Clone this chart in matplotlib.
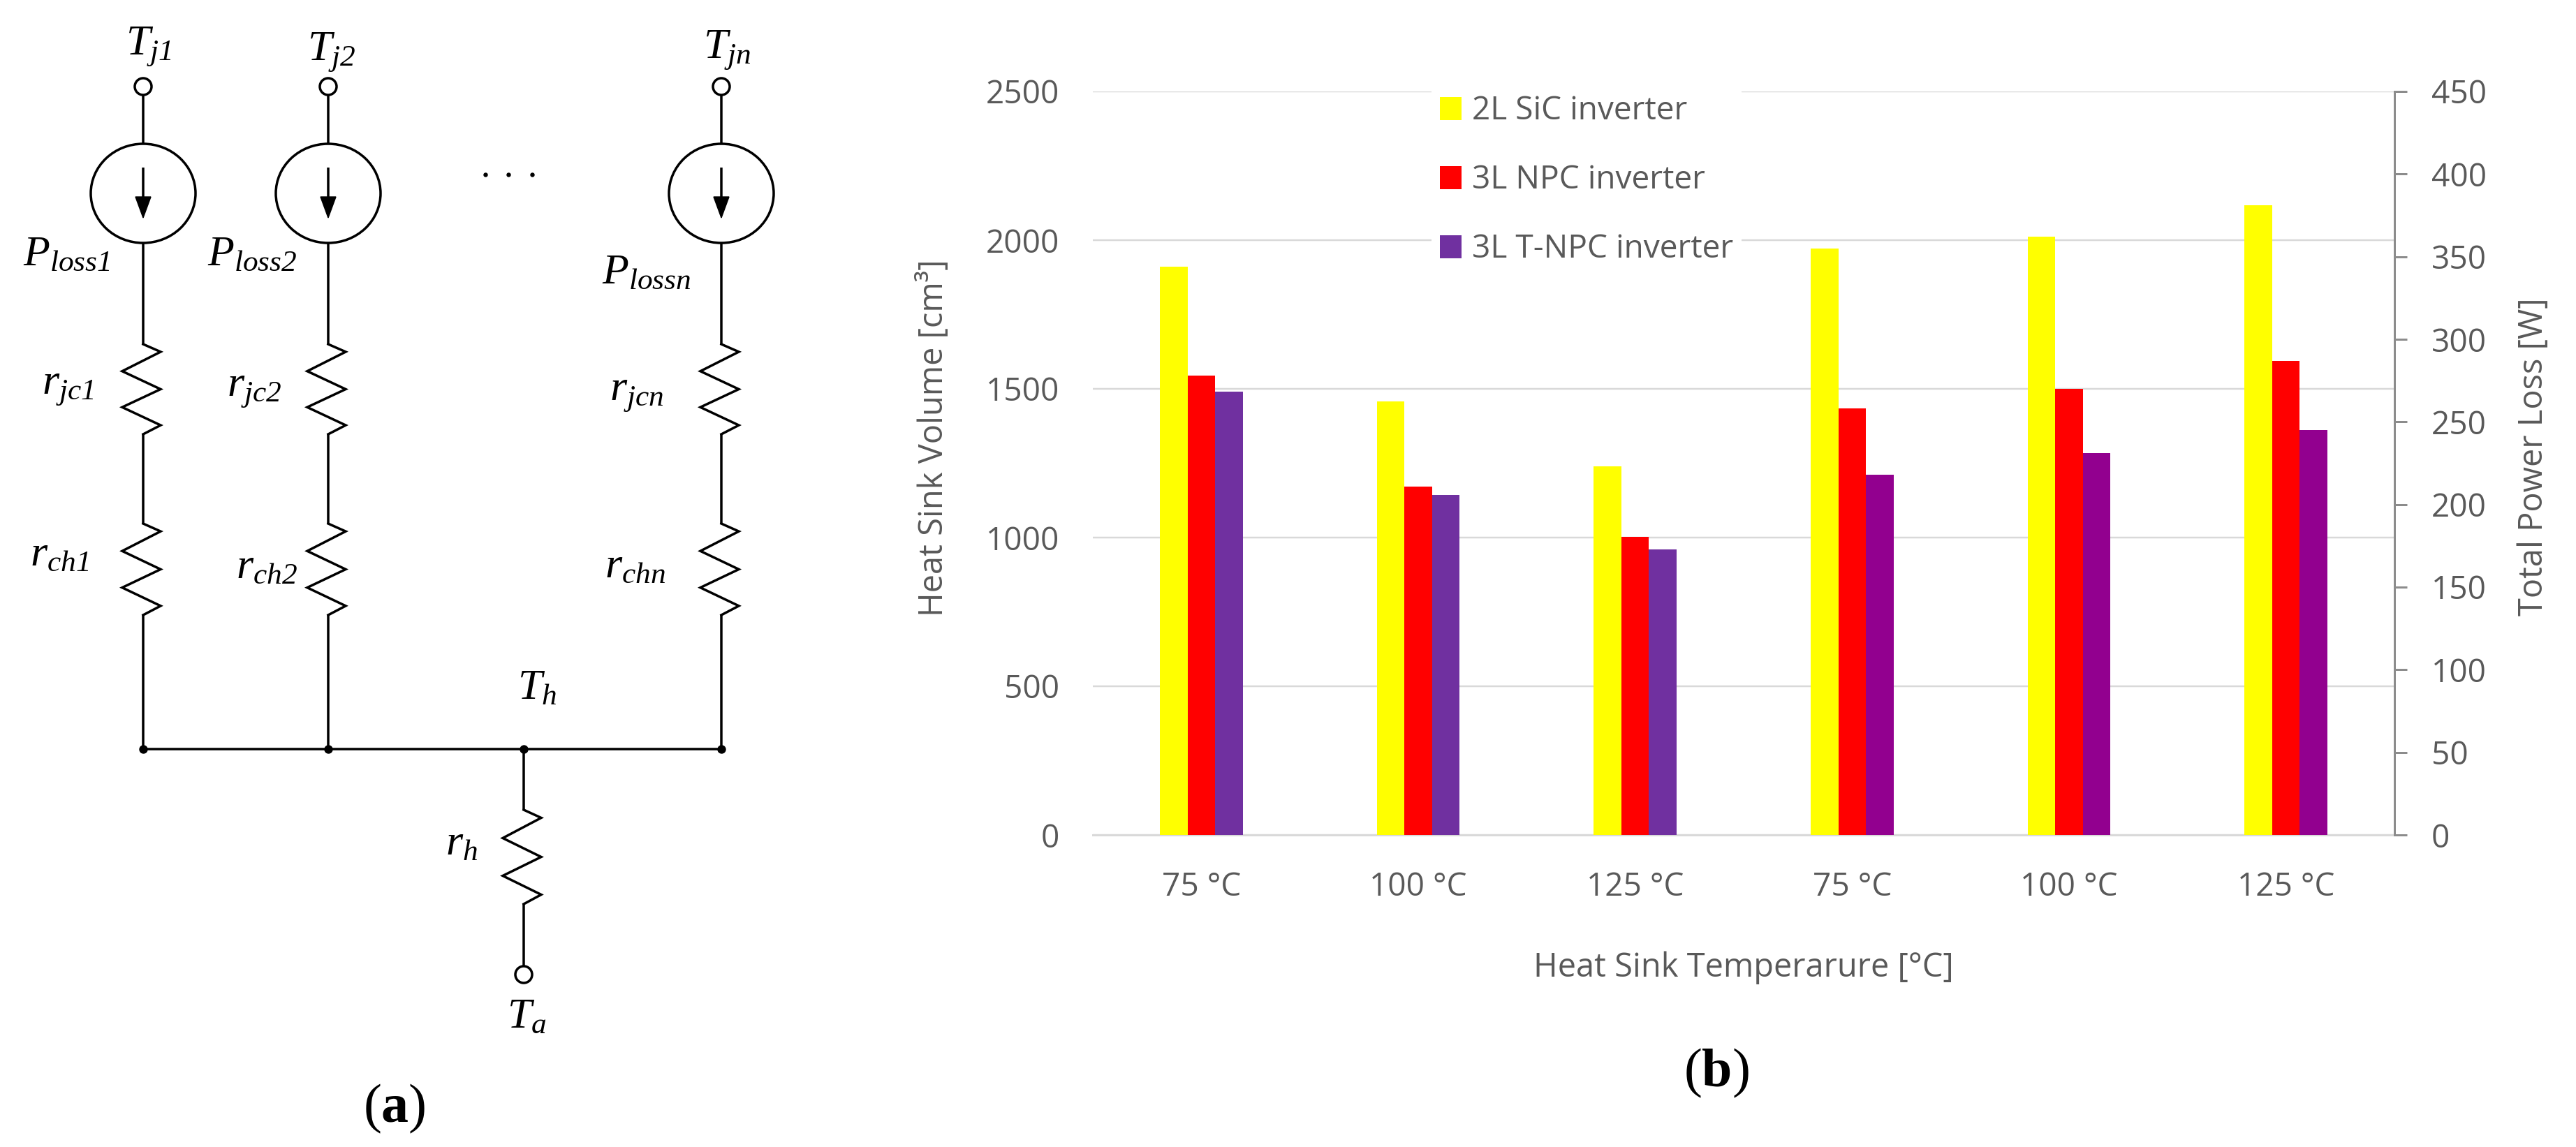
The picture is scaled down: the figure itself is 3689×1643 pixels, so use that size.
import numpy as np
import matplotlib
matplotlib.use("Agg")
import matplotlib.pyplot as plt
from matplotlib.patches import Ellipse, Circle, Polygon, Patch

# ---- chart data (panel b) ----
categories = ["75 °C", "100 °C", "125 °C", "75 °C", "100 °C", "125 °C"]
series_names = ["2L SiC inverter", "3L NPC inverter", "3L T-NPC inverter"]

# first three groups: heat sink volume [cm3] (left axis)
volume_2l = [1910, 1458, 1239]
volume_npc = [1545, 1172, 1002]
volume_tnpc = [1490, 1143, 961]

# last three groups: total power loss [W] (right axis)
loss_2l = [355, 362, 381]
loss_npc = [258, 270, 287]
loss_tnpc = [218, 231, 245]

vol_colors = ["#FFFF00", "#FF0000", "#7030A0"]
loss_colors = ["#FFFF00", "#FF0000", "#92008F"]

W, H = 3689, 1643
DPI = 100
PT = 72.0 / DPI  # points per pixel
TXT = "#595959"

plt.rcParams["font.family"] = ["Open Sans", "DejaVu Sans"]
plt.rcParams["mathtext.fontset"] = "custom"
plt.rcParams["mathtext.rm"] = "Liberation Serif:italic"
plt.rcParams["mathtext.it"] = "Liberation Serif:italic"
plt.rcParams["mathtext.bf"] = "Liberation Serif:bold"

fig = plt.figure(figsize=(W / DPI, H / DPI), dpi=DPI)

# ---- panel a: thermal network, drawn in pixel coords ----
ax0 = fig.add_axes([0, 0, 1, 1])
ax0.set_xlim(0, W)
ax0.set_ylim(H, 0)
ax0.axis("off")

LW = 3.5 * PT
branch_x = [205, 470, 1033]
node_x = 750
bus_y = 1073


def wire(x0, y0, x1, y1):
    ax0.plot([x0, x1], [y0, y1], color="k", lw=LW, solid_capstyle="butt")


def resistor(x, y0, y1):
    fr = np.array([0, 0.085, 0.3, 0.5, 0.7, 0.9, 1.0])
    dx = np.array([0, 25, -30, 25, -30, 25, 0])
    ax0.plot(x + dx, y0 + fr * (y1 - y0), color="k", lw=LW, solid_joinstyle="miter")


def terminal(x, y):
    ax0.add_patch(Circle((x, y), 12, facecolor="white", edgecolor="k", lw=LW, zorder=5))


for bx in branch_x:
    terminal(bx, 124)
    wire(bx, 136, bx, 206)
    ax0.add_patch(Ellipse((bx, 277), 150, 142, facecolor="none", edgecolor="k", lw=LW))
    wire(bx, 240, bx, 290)
    ax0.add_patch(Polygon([[bx - 11, 282], [bx + 11, 282], [bx, 312]], closed=True,
                          facecolor="k", edgecolor="k", lw=1))
    wire(bx, 348, bx, 493)
    resistor(bx, 493, 622)
    wire(bx, 622, bx, 750)
    resistor(bx, 750, 881)
    wire(bx, 881, bx, bus_y)

wire(branch_x[0], bus_y, branch_x[-1], bus_y)
ax0.plot(branch_x + [node_x], [bus_y] * 4, "o", color="k", ms=11 * PT, zorder=6)
wire(node_x, bus_y, node_x, 1160)
resistor(node_x, 1160, 1295)
wire(node_x, 1295, node_x, 1384)
terminal(node_x, 1396)
ax0.plot([695, 728, 762], [250, 250, 250], "o", color="k", ms=5 * PT)

lab_fs = 62 * PT
labels = [
    (180, 79, r"$T_{j1}$"), (440, 87, r"$T_{j2}$"), (1007, 84, r"$T_{jn}$"),
    (33, 380, r"$P_{loss1}$"), (297, 380, r"$P_{loss2}$"), (862, 406, r"$P_{lossn}$"),
    (60, 565, r"$r_{jc1}$"), (325, 568, r"$r_{jc2}$"), (873, 574, r"$r_{jcn}$"),
    (43, 810, r"$r_{ch1}$"), (338, 828, r"$r_{ch2}$"), (866, 827, r"$r_{chn}$"),
    (741, 1002, r"$T_{h}$"), (638, 1225, r"$r_{h}$"), (726, 1472, r"$T_{a}$"),
]
for lx, ly, s in labels:
    ax0.text(lx, ly, s, fontsize=lab_fs, ha="left", va="baseline", color="k")

ax0.text(565, 1588, r"($\mathbf{a}$)", family="Liberation Serif", fontsize=78 * PT,
         ha="center", va="center", color="k")
ax0.text(2458, 1537, r"($\mathbf{b}$)", family="Liberation Serif", fontsize=78 * PT,
         ha="center", va="center", color="k")

# ---- panel b: bar chart ----
x0p, x1p, ytop, ybot = 1565, 3429, 131, 1196
ax = fig.add_axes([x0p / W, 1 - ybot / H, (x1p - x0p) / W, (ybot - ytop) / H])
ax.patch.set_alpha(0)
ax2 = ax.twinx()

bw = 0.127
vol_x = np.arange(3)
loss_x = np.arange(3, 6)
offsets = [-bw, 0, bw]

for vals, off, c in zip([volume_2l, volume_npc, volume_tnpc], offsets, vol_colors):
    ax.bar(vol_x + off, vals, width=bw, color=c, zorder=3)
for vals, off, c in zip([loss_2l, loss_npc, loss_tnpc], offsets, loss_colors):
    ax2.bar(loss_x + off, vals, width=bw, color=c, zorder=3)

ax.set_xlim(-0.5, 5.5)
ax.set_ylim(0, 2500)
ax.set_yticks(np.arange(0, 2501, 500))
ax2.set_ylim(0, 450)
ax2.set_yticks(np.arange(0, 451, 50))
ax.set_xticks(np.arange(len(categories)))
ax.set_xticklabels(categories)

ax.grid(axis="y", color="#D9D9D9", lw=2.5 * PT)
ax.set_axisbelow(True)

for s in ["left", "right", "top"]:
    ax.spines[s].set_visible(False)
ax.spines["bottom"].set_color("#D9D9D9")
ax.spines["bottom"].set_linewidth(3 * PT)
for s in ["left", "top", "bottom"]:
    ax2.spines[s].set_visible(False)
ax2.spines["right"].set_color("#8C8C8C")
ax2.spines["right"].set_linewidth(3 * PT)

tick_fs = 46 * PT
ax.tick_params(axis="y", length=0, pad=48 * PT, labelsize=tick_fs, labelcolor=TXT)
ax.tick_params(axis="x", length=0, pad=52 * PT, labelsize=tick_fs, labelcolor=TXT)
ax2.tick_params(axis="y", direction="out", length=18 * PT, width=3 * PT, color="#8C8C8C",
                pad=35 * PT, labelsize=tick_fs, labelcolor=TXT)

title_fs = 47 * PT
ax.set_ylabel("Heat Sink Volume [cm³]", fontsize=title_fs, color=TXT, va="center", ha="center")
ax.yaxis.set_label_coords((1337 - x0p) / (x1p - x0p), (ybot - 627) / (ybot - ytop))
ax2.set_ylabel("Total Power Loss [W]", fontsize=title_fs, color=TXT, va="center", ha="center",
               rotation=90)
ax2.yaxis.set_label_coords((3628 - x0p) / (x1p - x0p), (ybot - 654) / (ybot - ytop))
ax.set_xlabel("Heat Sink Temperarure [°C]", fontsize=title_fs, color=TXT, va="baseline")
ax.xaxis.set_label_coords(0.5, (ybot - 1399) / (ybot - ytop))

handles = [Patch(facecolor=c, edgecolor="none") for c in vol_colors]
leg = ax2.legend(handles, series_names, loc="upper left",
                 bbox_to_anchor=(2050 / W, 1 - 124 / H), bbox_transform=fig.transFigure,
                 borderaxespad=0, borderpad=0.27, fontsize=46 * PT,
                 handlelength=0.66, handleheight=0.72, handletextpad=0.32,
                 labelspacing=1.15, frameon=True, fancybox=False,
                 facecolor="white", edgecolor="none", framealpha=1)
for t in leg.get_texts():
    t.set_color(TXT)

fig.savefig("out.png", dpi=DPI)
